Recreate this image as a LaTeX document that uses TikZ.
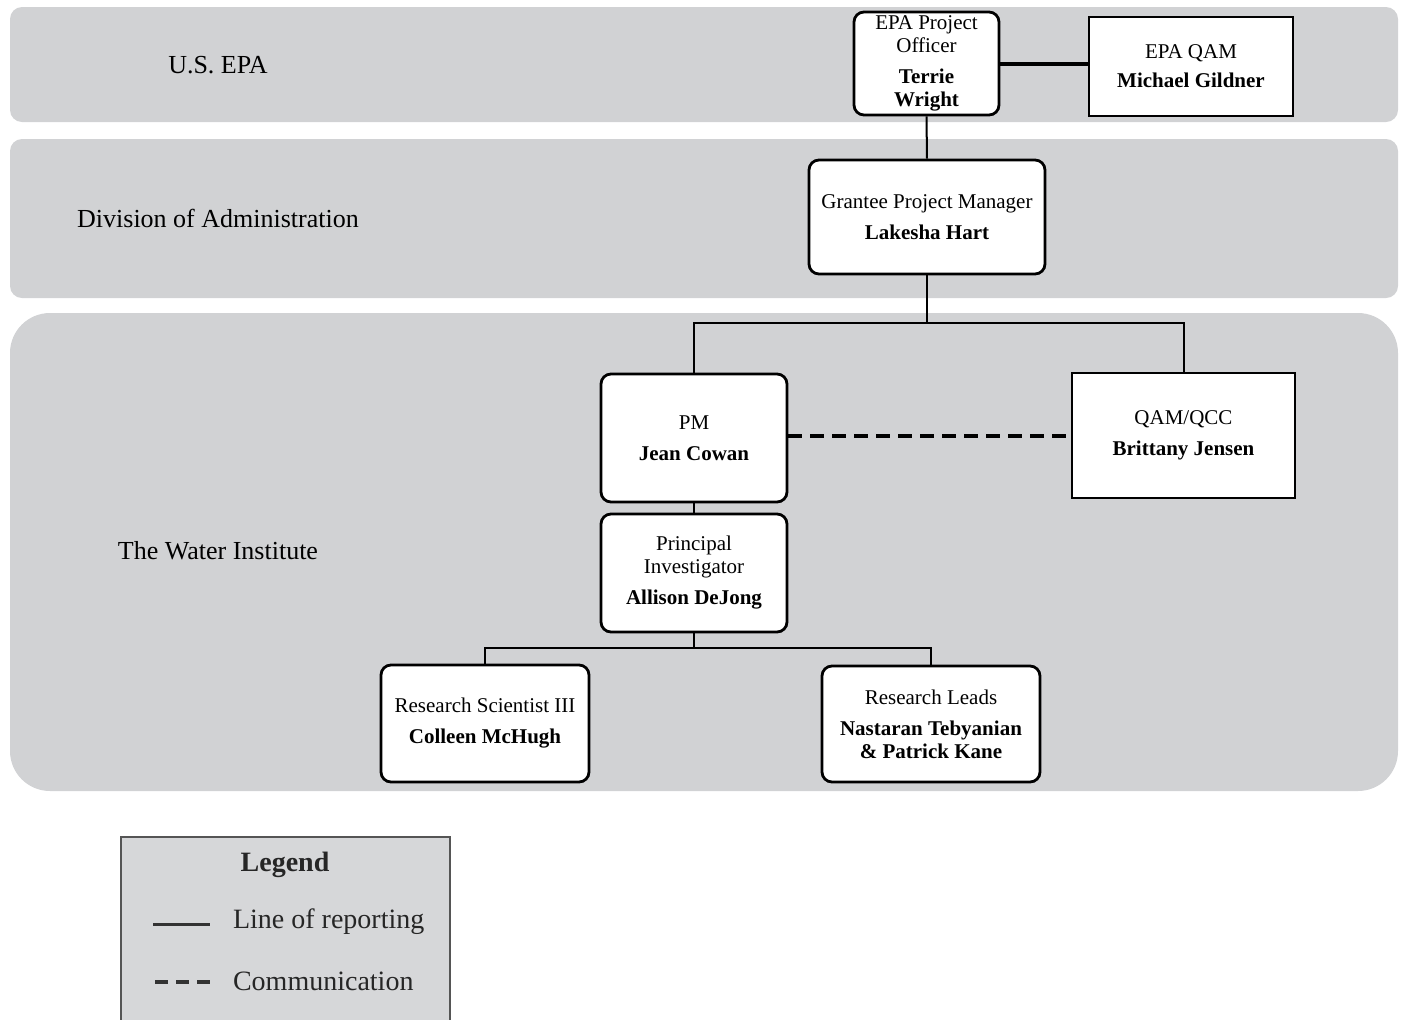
\documentclass[tikz,border=0pt]{standalone}
\usepackage{fontspec}
\setmainfont{Liberation Serif}
\usetikzlibrary{positioning}
\definecolor{bandgray}{HTML}{D1D2D4}
\definecolor{leggray}{HTML}{D6D7D9}
\definecolor{legedge}{HTML}{555555}

\begin{document}
\begin{tikzpicture}[x=0.5pt,y=-0.5pt,
 band/.style={fill=bandgray,rounded corners=6pt},
 box/.style={draw,line width=1.4pt,rounded corners=5pt,fill=white,align=center,inner sep=0pt,font=\fontsize{10.5}{11.5}\selectfont},
 sqbox/.style={box,sharp corners},
 link/.style={line width=1pt},
 lbl/.style={font=\fontsize{13}{15}\selectfont},
 legtext/.style={font=\fontsize{14}{16}\selectfont,text=black!85}]
\useasboundingbox (0,0) rectangle (1405,1019);
% bands
\fill[band] (10,7) rectangle (1398,122);
\fill[band] (10,139) rectangle (1398,298);
\fill[band,rounded corners=20pt] (10,313) rectangle (1398,791);
\node[lbl] (usepa) at (218,65) {U.S. EPA};
\node[lbl] (doa) at (218,218) {Division of Administration};
\node[lbl] (twi) at (218,551) {The Water Institute};
% people
\node[box,minimum width=72.5pt,minimum height=51.5pt] (po) at (926.5,63.5) {EPA Project\\Officer\\[4pt]\textbf{Terrie}\\\textbf{Wright}};
\node[sqbox,minimum width=102pt,minimum height=49.5pt] (qam) at (1191,66.5) {EPA QAM\\[3pt]\textbf{Michael Gildner}};
\node[box,minimum width=118pt,minimum height=57pt] (gpm) at (927,217) {Grantee Project Manager\\[4pt]\textbf{Lakesha Hart}};
\node[box,minimum width=93pt,minimum height=64pt] (pm) at (694,438) {PM\\[4pt]\textbf{Jean Cowan}};
\node[sqbox,minimum width=111.5pt,minimum height=62.5pt] (qcc) at (1183.5,435.5) {QAM/QCC\\[4pt]\textbf{Brittany Jensen}};
\node[box,minimum width=93pt,minimum height=59pt] (pi) at (694,573) {Principal\\Investigator\\[4pt]\textbf{Allison DeJong}};
\node[box,minimum width=104pt,minimum height=58.5pt] (rs) at (485,723.5) {Research Scientist III\\[4pt]\textbf{Colleen McHugh}};
\node[box,minimum width=109pt,minimum height=58pt] (rl) at (931,724) {Research Leads\\[4pt]\textbf{Nastaran Tebyanian}\\\textbf{\& Patrick Kane}};
% connectors
\coordinate (split) at (927,323);
\coordinate (split2) at (694,648);
\draw[link,line width=2pt] (po.east) -- (po.east -| qam.west);
\draw[link] (po.south) -- (gpm.north);
\draw[link] (gpm.south) -- (split) -| (pm.north);
\draw[link] (split) -| (qcc.north);
\draw[link] (pm.south) -- (pi.north);
\draw[link] (pi.south) -- (split2) -| (rs.north);
\draw[link] (split2) -| (rl.north);
\draw[line width=2pt,dash pattern=on 7pt off 4pt] (qcc.west -| pm.east) -- (qcc.west);
% legend
\filldraw[fill=leggray,draw=legedge,line width=1pt] (121,837) rectangle (450,1040);
\node[legtext,font=\bfseries\fontsize{14}{16}\selectfont] (leg) at (285,865) {Legend};
\node[legtext,anchor=west] (rep) at (226,922) {Line of reporting};
\node[legtext,anchor=west] (com) at (226,981) {Communication};
\coordinate (rep0) at (153,924);
\coordinate (rep1) at (210,924);
\coordinate (com0) at (155,982);
\coordinate (com1) at (210,982);
\draw[line width=1.5pt,black!80] (rep0) -- (rep1);
\draw[line width=2pt,black!80,dash pattern=on 6.5pt off 4pt] (com0) -- (com1);
\end{tikzpicture}
\end{document}
